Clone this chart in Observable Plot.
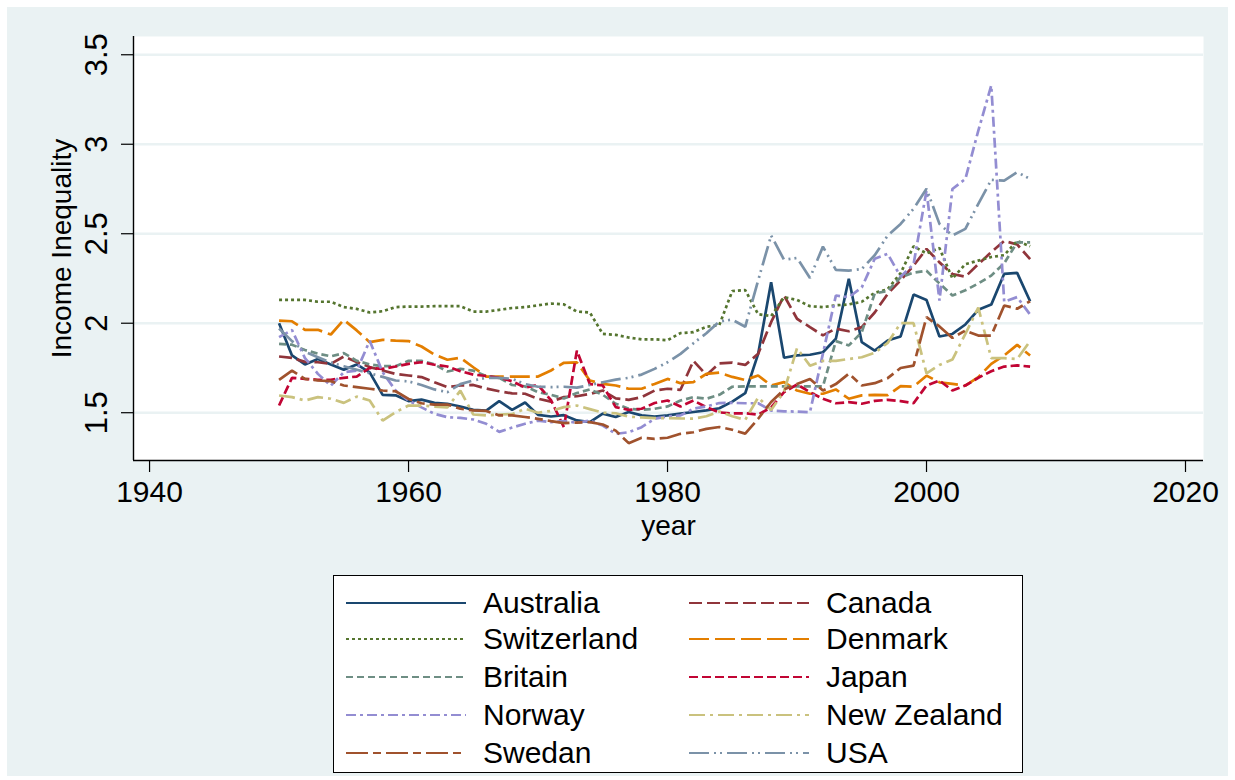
<!DOCTYPE html>
<html>
<head>
<meta charset="utf-8">
<script src="https://cdn.jsdelivr.net/npm/d3@7"></script>
<script src="https://cdn.jsdelivr.net/npm/@observablehq/plot@0.6"></script>
<style>
  html, body { margin: 0; padding: 0; background: #ffffff; }
  body { width: 1235px; height: 780px; position: relative; overflow: hidden; font-family: "Liberation Sans", Arial, sans-serif; }
  #region { position: absolute; left: 7px; top: 7px; width: 1221px; height: 769px; background: #eaf2f3; }
  #chart { position: absolute; left: 0; top: 0; }
  #legend { position: absolute; left: 333px; top: 575px; width: 688px; height: 196px; background: #ffffff; border: 1px solid #000; }
  .item { position: absolute; height: 36px; }
  .item svg { position: absolute; left: 0; top: 0; }
  .item span { position: absolute; top: 0; line-height: 36px; font-size: 30px; color: #000; white-space: nowrap; }
</style>
</head>
<body>
<div id="region"></div>
<div id="chart"></div>
<div id="legend"></div>
<script>
const years = [1950,1951,1952,1953,1954,1955,1956,1957,1958,1959,1960,1961,1962,1963,1964,1965,1966,1967,1968,1969,
  1970,1971,1972,1973,1974,1975,1976,1977,1978,1979,1980,1981,1982,1983,1984,1985,1986,1987,1988,1989,
  1990,1991,1992,1993,1994,1995,1996,1997,1998,1999,2000,2001,2002,2003,2004,2005,2006,2007,2008];

const australia = [2.00,1.82,1.77,1.80,1.77,1.74,1.77,1.725,1.60,1.597,1.565,1.573,1.555,1.55,1.535,1.516,1.512,1.565,1.516,1.557,
  1.488,1.479,1.486,1.457,1.448,1.495,1.476,1.504,1.485,1.479,1.485,1.495,1.504,1.513,1.525,1.562,1.609,1.829,2.229,1.807,
  1.82,1.824,1.838,1.913,2.248,1.894,1.847,1.903,1.926,2.16,2.13,1.926,1.94,1.993,2.075,2.104,2.276,2.281,2.123];
const canada = [1.814,1.806,1.784,1.782,1.773,1.814,1.784,1.755,1.736,1.717,1.708,1.699,1.67,1.643,1.652,1.655,1.635,1.62,1.608,1.606,
  1.578,1.562,1.587,1.592,1.605,1.624,1.58,1.572,1.587,1.624,1.634,1.628,1.79,1.71,1.776,1.78,1.767,1.829,2.006,2.155,
  2.025,1.978,1.932,1.97,1.955,1.978,2.06,2.164,2.24,2.322,2.415,2.34,2.275,2.26,2.33,2.397,2.46,2.44,2.358];
const switzerland = [2.13,2.13,2.13,2.12,2.12,2.09,2.08,2.06,2.067,2.09,2.093,2.093,2.095,2.095,2.095,2.065,2.065,2.075,2.085,2.09,
  2.1,2.11,2.105,2.065,2.06,1.94,1.935,1.92,1.91,1.91,1.905,1.945,1.95,1.98,1.99,2.18,2.185,2.05,2.04,2.145,
  2.13,2.095,2.09,2.1,2.105,2.12,2.17,2.19,2.28,2.43,2.39,2.42,2.25,2.33,2.35,2.37,2.38,2.46,2.43];
const denmark = [2.015,2.011,1.963,1.963,1.937,2.019,1.96,1.894,1.907,1.903,1.90,1.87,1.825,1.796,1.807,1.754,1.702,1.702,1.702,1.702,
  1.702,1.736,1.779,1.781,1.68,1.661,1.652,1.634,1.634,1.661,1.689,1.665,1.671,1.717,1.724,1.70,1.683,1.708,1.652,1.671,
  1.624,1.606,1.606,1.63,1.578,1.597,1.60,1.598,1.648,1.646,1.707,1.67,1.661,1.652,1.699,1.773,1.82,1.879,1.82];
const britain = [1.885,1.88,1.85,1.83,1.815,1.833,1.79,1.77,1.76,1.76,1.79,1.79,1.77,1.73,1.745,1.735,1.705,1.695,1.655,1.647,
  1.615,1.60,1.58,1.61,1.63,1.60,1.55,1.522,1.516,1.522,1.535,1.568,1.587,1.578,1.60,1.645,1.647,1.647,1.647,1.647,
  1.647,1.647,1.647,1.90,1.876,1.95,2.166,2.18,2.257,2.283,2.293,2.222,2.155,2.184,2.222,2.266,2.335,2.452,2.452];
const japan = [1.54,1.695,1.689,1.684,1.684,1.695,1.702,1.75,1.745,1.758,1.773,1.782,1.768,1.758,1.732,1.713,1.705,1.695,1.676,1.64,
  1.655,1.57,1.419,1.847,1.66,1.652,1.531,1.516,1.522,1.554,1.568,1.535,1.568,1.531,1.502,1.496,1.497,1.489,1.53,1.615,
  1.658,1.615,1.578,1.553,1.559,1.55,1.566,1.572,1.565,1.553,1.652,1.68,1.624,1.652,1.695,1.732,1.758,1.764,1.758];
const norway = [1.922,1.962,1.805,1.717,1.651,1.726,1.735,1.902,1.726,1.624,1.568,1.53,1.494,1.475,1.471,1.462,1.438,1.393,1.417,1.438,
  1.456,1.447,1.453,1.444,1.456,1.428,1.382,1.391,1.419,1.466,1.479,1.485,1.522,1.535,1.554,1.555,1.553,1.553,1.512,1.508,
  1.506,1.503,1.83,2.155,2.145,2.20,2.36,2.388,2.26,2.33,2.741,2.127,2.75,2.806,3.076,3.328,2.12,2.146,2.048];
const newZealand = [1.596,1.587,1.568,1.587,1.578,1.555,1.59,1.568,1.456,1.503,1.54,1.54,1.534,1.53,1.623,1.49,1.485,1.49,1.492,1.522,
  1.50,1.51,1.531,1.54,1.52,1.50,1.497,1.478,1.474,1.47,1.47,1.468,1.467,1.48,1.507,1.48,1.46,1.585,1.515,1.62,
  1.86,1.763,1.79,1.79,1.80,1.81,1.835,1.89,2.0,2.0,1.72,1.767,1.797,1.94,2.087,1.805,1.805,1.80,1.90];
const swedan = [1.683,1.735,1.689,1.68,1.676,1.652,1.643,1.634,1.624,1.62,1.577,1.553,1.545,1.546,1.522,1.513,1.51,1.485,1.485,1.476,
  1.466,1.453,1.442,1.445,1.447,1.434,1.40,1.33,1.36,1.354,1.36,1.382,1.391,1.41,1.42,1.405,1.383,1.466,1.56,1.63,
  1.66,1.689,1.624,1.66,1.718,1.652,1.665,1.693,1.75,1.763,2.034,1.982,1.918,1.959,1.931,1.931,2.099,2.081,2.123];
const usa = [1.97,1.90,1.84,1.81,1.78,1.76,1.74,1.72,1.70,1.68,1.675,1.655,1.63,1.615,1.66,1.68,1.695,1.695,1.69,1.66,
  1.645,1.643,1.645,1.64,1.655,1.67,1.685,1.695,1.713,1.745,1.782,1.829,1.888,1.944,2.01,2.02,1.98,2.24,2.49,2.354,
  2.365,2.253,2.428,2.298,2.294,2.303,2.38,2.49,2.555,2.639,2.751,2.555,2.49,2.527,2.667,2.801,2.797,2.844,2.806];

const countries = ["Australia","Canada","Switzerland","Denmark","Britain","Japan","Norway","New Zealand","Swedan","USA"];
const seriesValues = [australia, canada, switzerland, denmark, britain, japan, norway, newZealand, swedan, usa];
const colors = ["#1a476f","#90353b","#55752f","#e37e00","#6e8e84","#c10534","#938dd2","#cac27e","#a0522d","#7b92a8"];
const dashes = ["none","13,5","3,3","20,6","7,4","9,4","10,4,3,4","16,5,3,5","22,5,8,5","20,5,2,4,2,5"];
const xTicks = [1940,1960,1980,2000,2020];
const yTicks = [1.5,2,2.5,3,3.5];
const xDomain = [1938.76, 2021.39];
const yDomain = [1.233, 3.602];

const FONT = "Liberation Sans, Arial, sans-serif";

const lineMarks = countries.map((c, i) => {
  const rows = years.map((yr, j) => ({year: yr, value: seriesValues[i][j]}));
  return Plot.line(rows, {x: "year", y: "value", stroke: colors[i], strokeWidth: 2.7,
    strokeDasharray: dashes[i], strokeLinejoin: "miter", strokeLinecap: "butt"});
});

const chart = Plot.plot({
  width: 1235,
  height: 545,
  marginLeft: 133,
  marginRight: 32,
  marginTop: 36,
  marginBottom: 85,
  style: {background: "none", fontFamily: FONT, color: "#000", overflow: "visible"},
  x: {domain: xDomain},
  y: {domain: yDomain},
  marks: [
    Plot.frame({fill: "#ffffff", stroke: "none"}),
    Plot.gridY(yTicks, {stroke: "#eaf2f3", strokeOpacity: 1, strokeWidth: 2.5}),
    ...lineMarks,
    Plot.ruleX([xDomain[0]], {stroke: "#000", strokeWidth: 1.4}),
    Plot.ruleY([yDomain[0]], {stroke: "#000", strokeWidth: 1.4}),
    Plot.axisY(yTicks, {tickSize: 12, tickFormat: () => "", label: null, strokeWidth: 1.2}),
    Plot.text(yTicks, {y: d => d, text: d => String(d), frameAnchor: "left", dx: -36, rotate: -90,
      textAnchor: "middle", lineAnchor: "middle", fontSize: 31, fill: "#000"}),
    Plot.axisX(xTicks, {tickSize: 12, tickPadding: 8, fontSize: 30, tickFormat: d => String(d), label: null, strokeWidth: 1.2}),
    Plot.text(["year"], {frameAnchor: "bottom", dy: 55, lineAnchor: "top", fontSize: 28, fill: "#000"}),
    Plot.text(["Income Inequality"], {frameAnchor: "left", dx: -71, rotate: -90, textAnchor: "middle",
      lineAnchor: "middle", fontSize: 28, fill: "#000"})
  ]
});
document.getElementById("chart").appendChild(chart);

// legend
const legend = document.getElementById("legend");
const rowTops = [9, 45, 83, 121, 159];
countries.forEach((c, i) => {
  const col = i % 2, row = Math.floor(i / 2);
  const item = document.createElement("div");
  item.className = "item";
  item.style.left = (col === 0 ? 11 : 354) + "px";
  item.style.top = rowTops[row] + "px";
  item.style.width = "330px";
  const ns = "http://www.w3.org/2000/svg";
  const svg = document.createElementNS(ns, "svg");
  svg.setAttribute("width", 122); svg.setAttribute("height", 36);
  const ln = document.createElementNS(ns, "line");
  ln.setAttribute("x1", 1); ln.setAttribute("x2", 121);
  ln.setAttribute("y1", 18); ln.setAttribute("y2", 18);
  ln.setAttribute("stroke", colors[i]); ln.setAttribute("stroke-width", 2.2);
  if (dashes[i] !== "none") ln.setAttribute("stroke-dasharray", dashes[i]);
  svg.appendChild(ln);
  item.appendChild(svg);
  const sp = document.createElement("span");
  sp.style.left = "138px";
  sp.textContent = c;
  item.appendChild(sp);
  legend.appendChild(item);
});
</script>
</body>
</html>
